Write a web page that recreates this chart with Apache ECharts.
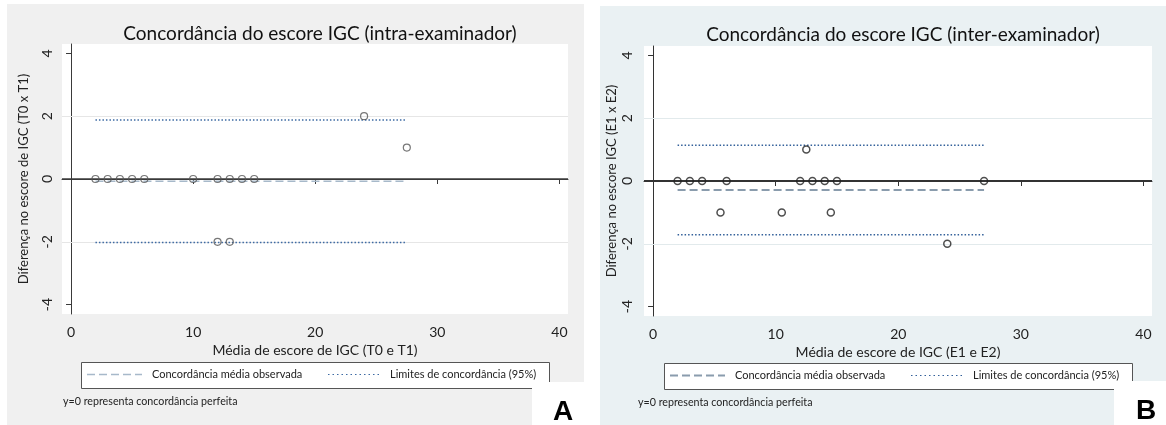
<!DOCTYPE html>
<html><head><meta charset="utf-8">
<script src="https://cdn.jsdelivr.net/npm/echarts@6/dist/echarts.min.js"></script>
<style>html,body{margin:0;padding:0;background:#fff}#c{width:1166px;height:425px}</style>
</head><body><div id="c"></div>
<script>
// ---- data ----
const xTicks = [0, 10, 20, 30, 40];
const yTicks = [-4, -2, 0, 2, 4];
const gridYValues = [-2, 2];
const zeroLine = [0];
// Panel A: intra-examinador
const intraMeans = [2, 3, 4, 5, 6, 10, 12, 13, 14, 15, 24, 27.5, 12, 13];
const intraDiffs = [0, 0, 0, 0, 0, 0, 0, 0, 0, 0, 2, 1, -2, -2];
const intraMeanDiff = -0.07;
const intraLimits = [-2.02, 1.88];
// Panel B: inter-examinador
const interMeans = [2, 3, 4, 6, 12, 13, 14, 15, 27, 12.5, 5.5, 10.5, 14.5, 24];
const interDiffs = [0, 0, 0, 0, 0, 0, 0, 0, 0, 1, -1, -1, -1, -2];
const interMeanDiff = -0.29;
const interLimits = [-1.71, 1.14];
// texts
const titles = ['Concordância do escore IGC (intra-examinador)', 'Concordância do escore IGC (inter-examinador)'];
const xNames = ['Média de escore de IGC (T0 e T1)', 'Média de escore de IGC (E1 e E2)'];
const yNames = ['Diferença no escore de IGC (T0 x T1)', 'Diferença no escore IGC (E1 x E2)'];
const legendLabels = ['Concordância média observada', 'Limites de concordância (95%)'];
const noteText = 'y=0 representa concordância perfeita';
const panelLetters = ['A', 'B'];

const FONT = 'Lato';
const panels = [
  {means: intraMeans, diffs: intraDiffs, md: intraMeanDiff, lim: intraLimits,
   grid: {left: 62, top: 44, width: 506, height: 270}, bg: '#f0f0f0', panel: [7, 4, 577, 421],
   gridColor: '#e6e6e6', axisColor: '#3a3a3a', zeroColor: '#3a3a3a', zeroW: 1.5,
   dashColor: '#a7b9ca', dashW: 1.5, dotColor: '#3d6aa3', mk: '#555', mkW: 1.2,
   legend: [81, 362], note: [63, 402], box: [532, 382], letter: [563, 412], titleY: 19,
   yNameGap: 32, yLabelMargin: 8},
  {means: interMeans, diffs: interDiffs, md: interMeanDiff, lim: interLimits,
   grid: {left: 644, top: 46, width: 508, height: 270}, bg: '#eaf1f3', panel: [600, 6, 566, 419],
   gridColor: '#e2eaec', axisColor: '#333', zeroColor: '#333', zeroW: 2,
   dashColor: '#8a9cad', dashW: 2, dotColor: '#33609a', mk: '#222', mkW: 1.5,
   legend: [664, 363], note: [638, 403], box: [1114, 381], letter: [1146, 411], titleY: 20,
   yNameGap: 26, yLabelMargin: 10}
];

const option = {
  animation: false,
  title: [], grid: [], xAxis: [], yAxis: [], series: [], graphic: {elements: []}
};

panels.forEach((p, i) => {
  const g = p.grid;
  option.grid.push(Object.assign({show: true, backgroundColor: '#fff', borderWidth: 0, containLabel: false}, g));
  option.title.push({
    text: titles[i], left: g.left + g.width / 2, top: p.titleY, textAlign: 'center',
    textStyle: {fontFamily: FONT, fontSize: 19, fontWeight: 'normal', color: '#111'}
  });
  option.xAxis.push({
    type: 'value', gridIndex: i, min: -0.74, max: 40.7,
    name: xNames[i], nameLocation: 'middle', nameGap: 24,
    nameTextStyle: {fontFamily: FONT, fontSize: 14, color: '#222'},
    axisLine: {show: true, lineStyle: {color: p.axisColor, width: 1}},
    axisTick: {show: true, customValues: xTicks, length: 5, lineStyle: {color: p.axisColor}},
    axisLabel: {customValues: xTicks, margin: 11, fontFamily: FONT, fontSize: 14, color: '#222'},
    splitLine: {show: false}
  });
  option.yAxis.push({
    type: 'value', gridIndex: i, min: -4.3, max: 4.3,
    name: yNames[i], nameLocation: 'middle', nameGap: p.yNameGap,
    nameTextStyle: {fontFamily: FONT, fontSize: 13, color: '#222'},
    axisLine: {show: true, lineStyle: {color: p.axisColor, width: 1}},
    axisTick: {show: true, customValues: yTicks, length: 5, lineStyle: {color: p.axisColor}},
    axisLabel: {customValues: yTicks, rotate: 90, margin: p.yLabelMargin, fontFamily: FONT, fontSize: 14, color: '#222'},
    splitLine: {show: false}
  });
  const xmin = Math.min(...p.means), xmax = Math.max(...p.means);
  // grid lines
  option.series.push({
    type: 'line', xAxisIndex: i, yAxisIndex: i, data: [], z: 1, silent: true,
    markLine: {z: 1, silent: true, symbol: 'none', label: {show: false},
      lineStyle: {color: p.gridColor, width: 1, type: 'solid'},
      data: gridYValues.map(v => ({yAxis: v}))}
  });
  // zero line
  option.series.push({
    type: 'line', xAxisIndex: i, yAxisIndex: i, data: [], z: 2, silent: true,
    markLine: {z: 2, silent: true, symbol: 'none', label: {show: false},
      lineStyle: {color: p.zeroColor, width: p.zeroW, type: 'solid'},
      data: zeroLine.map(v => ({yAxis: v}))}
  });
  // mean difference
  option.series.push({
    type: 'line', xAxisIndex: i, yAxisIndex: i, z: 3, symbol: 'none', silent: true,
    data: [[xmin, p.md], [xmax, p.md]],
    lineStyle: {color: p.dashColor, width: p.dashW, type: [8, 4]}
  });
  // limits
  p.lim.forEach(l => {
    option.series.push({
      type: 'line', xAxisIndex: i, yAxisIndex: i, z: 3, symbol: 'none', silent: true,
      data: [[xmin, l], [xmax, l]],
      lineStyle: {color: p.dotColor, width: 1.5, type: [1.5, 2]}
    });
  });
  // points
  option.series.push({
    type: 'scatter', xAxisIndex: i, yAxisIndex: i, z: 6, symbol: 'circle', symbolSize: 7,
    data: p.means.map((m, k) => [m, p.diffs[k]]),
    itemStyle: {color: 'rgba(0,0,0,0)', borderColor: p.mk, borderWidth: p.mkW}
  });

  // graphics: panel bg
  const E = option.graphic.elements;
  E.push({type: 'rect', z: -10, silent: true,
    shape: {x: p.panel[0], y: p.panel[1], width: p.panel[2], height: p.panel[3]},
    style: {fill: p.bg}});
  // legend box
  const lx = p.legend[0], ly = p.legend[1], cy = ly + 12.5;
  E.push({type: 'rect', z: 10, shape: {x: lx + 0.5, y: ly + 0.5, width: 468, height: 26},
    style: {fill: '#fff', stroke: '#555', lineWidth: 1}});
  E.push({type: 'line', z: 11, shape: {x1: lx + 6, y1: cy, x2: lx + 61, y2: cy},
    style: {stroke: p.dashColor, lineWidth: p.dashW, lineDash: [8, 4]}});
  E.push({type: 'text', z: 11, x: lx + 71, y: cy,
    style: {text: legendLabels[0], fontFamily: FONT, fontSize: 11, fill: '#222', verticalAlign: 'middle'}});
  E.push({type: 'line', z: 11, shape: {x1: lx + 247, y1: cy, x2: lx + 299, y2: cy},
    style: {stroke: p.dotColor, lineWidth: 1.2, lineDash: [1.5, 3]}});
  E.push({type: 'text', z: 11, x: lx + 309, y: cy,
    style: {text: legendLabels[1], fontFamily: FONT, fontSize: 11, fill: '#222', verticalAlign: 'middle'}});
  // note
  E.push({type: 'text', z: 11, x: p.note[0], y: p.note[1],
    style: {text: noteText, fontFamily: FONT, fontSize: 10.7, fill: '#222', verticalAlign: 'middle'}});
  // letter box
  E.push({type: 'rect', z: 12, shape: {x: p.box[0], y: p.box[1], width: 52, height: 44},
    style: {fill: '#fff'}});
  E.push({type: 'text', z: 13, x: p.letter[0], y: p.letter[1],
    style: {text: panelLetters[i], fontFamily: 'Liberation Sans', fontWeight: 'bold', fontSize: 28,
      fill: '#000', align: 'center', verticalAlign: 'middle'}});
});

const chart = echarts.init(document.getElementById('c'), null, {renderer: 'canvas'});
chart.setOption(option);
</script></body></html>
